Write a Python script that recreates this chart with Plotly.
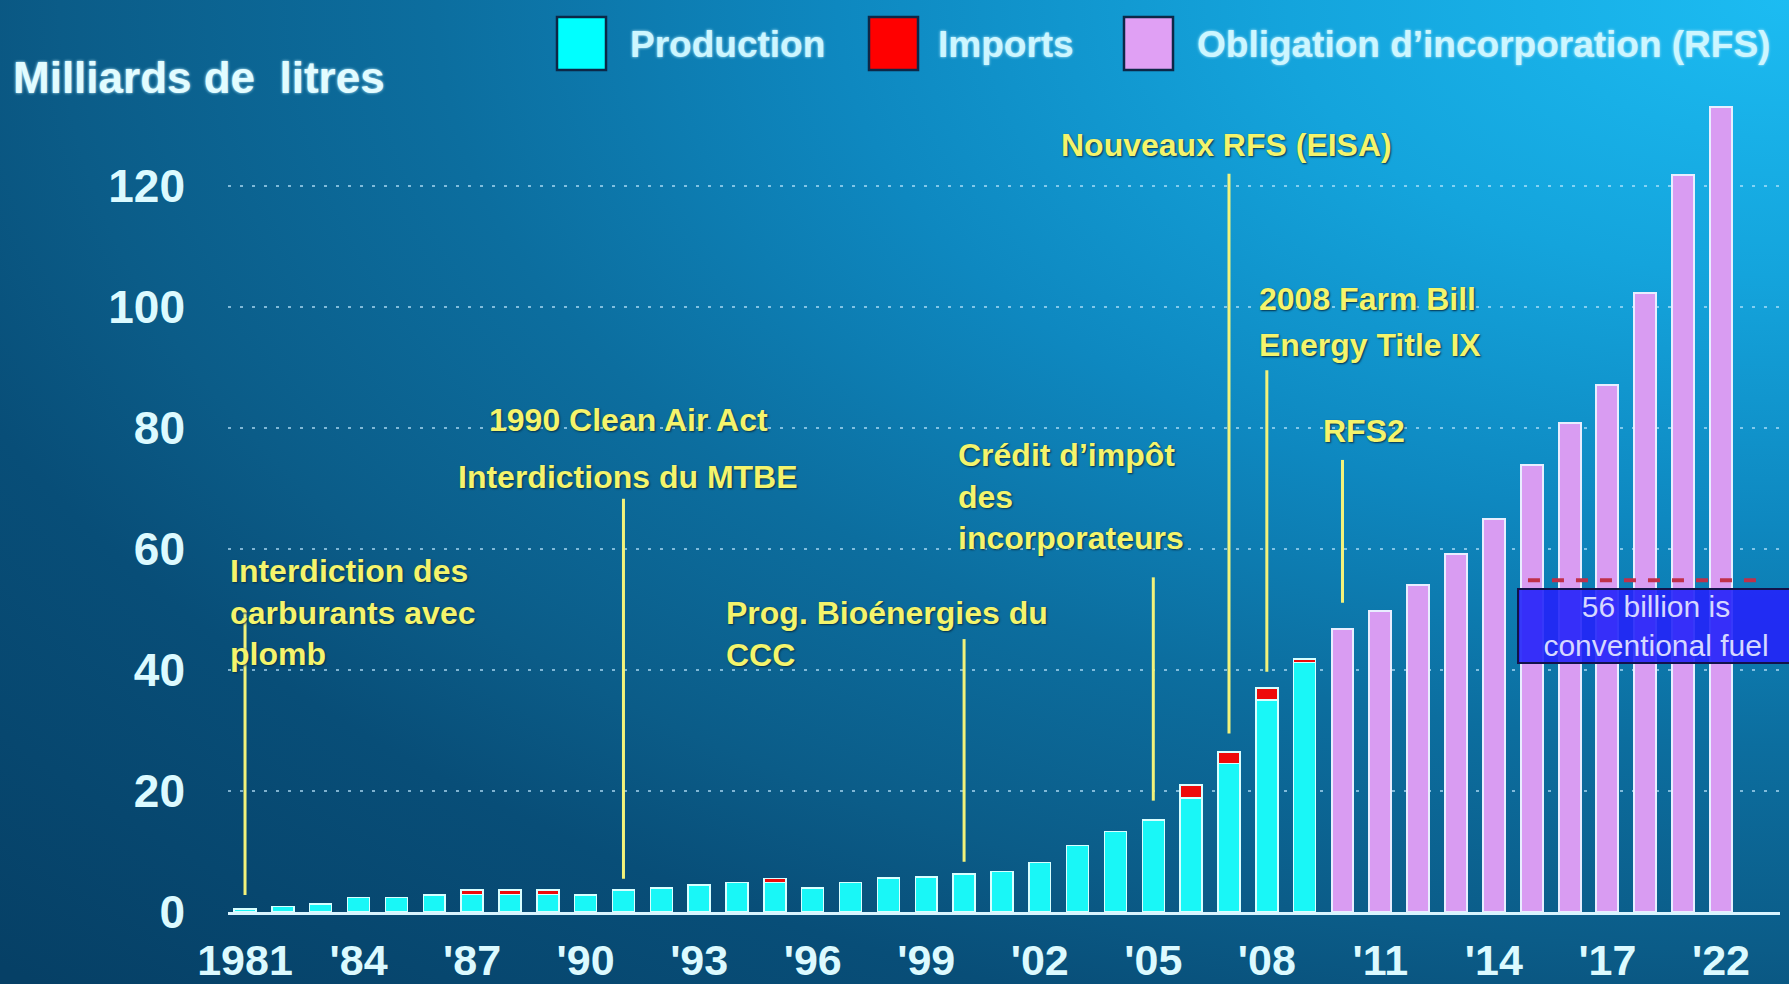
#--------------------- Packages
import base64
import plotly.graph_objects as go

#--------------------- Data (milliards de litres)
years = ['1981', '1982', '1983', '1984', '1985', '1986', '1987', '1988', '1989', '1990',
         '1991', '1992', '1993', '1994', '1995', '1996', '1997', '1998', '1999', '2000',
         '2001', '2002', '2003', '2004', '2005', '2006', '2007', '2008', '2009', '2010',
         '2011', '2012', '2013', '2014', '2015', '2016', '2017', '2019', '2021', '2022']

production = [0.5, 0.9, 1.3, 2.4, 2.4, 2.8, 2.9, 2.9, 2.9, 2.8,
              3.6, 4.0, 4.5, 4.9, 4.9, 4.0, 4.9, 5.6, 5.8, 6.3,
              6.7, 8.2, 11.0, 13.3, 15.2, 18.8, 24.5, 35.0, 41.2, None,
              None, None, None, None, None, None, None, None, None, None]

imports = [None, None, None, None, None, None, 0.7, 0.7, 0.7, None,
           None, None, None, None, 0.6, None, None, None, None, None,
           None, None, None, None, None, 2.2, 1.9, 2.0, 0.6, None,
           None, None, None, None, None, None, None, None, None, None]

rfs = [None, None, None, None, None, None, None, None, None, None,
       None, None, None, None, None, None, None, None, None, None,
       None, None, None, None, None, None, None, None, None, 46.7,
       49.7, 54.0, 59.1, 64.9, 73.8, 80.8, 87.1, 102.3, 121.7, 133.1]

tick_years = ['1981', '1984', '1987', '1990', '1993', '1996', '1999', '2002',
              '2005', '2008', '2011', '2014', '2017', '2022']
tick_labels = ['1981', "'84", "'87", "'90", "'93", "'96", "'99", "'02",
               "'05", "'08", "'11", "'14", "'17", "'22"]

# events: year of the marker line, bottom and top of the line
event_years = ['1981', '1991', '2000', '2005', '2007', '2008', '2010']
event_low = [2.8, 5.5, 8.3, 18.4, 29.5, 39.7, 51.1]
event_high = [49.5, 68.3, 45.1, 55.3, 122.0, 89.5, 74.7]

conventional_level = 54.8

#--------------------- Page geometry helpers
W, H = 1789, 984
L, R, T, B = 228, 9, 95, 72


def px(x):
    return (x - L) / (W - L - R)


def py(y):
    return (H - B - y) / (H - T - B)


#--------------------- Background gradient
svg = ('<svg xmlns="http://www.w3.org/2000/svg" width="1789" height="984" '
       'viewBox="0 0 1789 984" preserveAspectRatio="none">'
       '<defs><radialGradient id="g" cx="1" cy="0" r="1.4">'
       '<stop offset="0" stop-color="#1cbcf2"/>'
       '<stop offset="0.2" stop-color="#14a4dc"/>'
       '<stop offset="0.38" stop-color="#0e88c0"/>'
       '<stop offset="0.54" stop-color="#0c6e9f"/>'
       '<stop offset="0.69" stop-color="#0b5c88"/>'
       '<stop offset="0.78" stop-color="#084e78"/>'
       '<stop offset="1" stop-color="#064066"/>'
       '</radialGradient></defs>'
       '<rect width="1789" height="984" fill="url(#g)"/></svg>')
bg_src = 'data:image/svg+xml;base64,' + base64.b64encode(svg.encode()).decode()

#--------------------- Bars
fig = go.Figure()

fig.add_trace(go.Bar(
    x=years, y=production, name='Production', showlegend=False,
    marker=dict(color='#19f7f7', line=dict(color='#d8ffff', width=1.5))))

fig.add_trace(go.Bar(
    x=years, y=imports, name='Imports', showlegend=False,
    marker=dict(color='#ee0a0a', line=dict(color='#d8ffff', width=1.5))))

fig.add_trace(go.Bar(
    x=years, y=rfs, name='Obligation d’incorporation (RFS)', showlegend=False,
    marker=dict(color='#d99cf2', line=dict(color='#e8eeff', width=2))))

#--------------------- Event lines
shapes = []
for yr, lo, hi in zip(event_years, event_low, event_high):
    i = years.index(yr)
    shapes.append(dict(type='line', xref='x', yref='y', x0=i, x1=i, y0=lo, y1=hi,
                       line=dict(color='#f2f27a', width=3), layer='above'))

# red line over the last bars
shapes.append(dict(type='line', xref='x', yref='y', x0=33.9, x1=40.0,
                   y0=conventional_level, y1=conventional_level,
                   line=dict(color='#c0304a', width=4, dash='dash'), layer='above'))

# legend boxes
for x0, col in [(557, '#00ffff'), (869, '#ff0000'), (1124, '#e0a0f4')]:
    shapes.append(dict(type='rect', xref='paper', yref='paper',
                       x0=px(x0), x1=px(x0 + 49), y0=py(70), y1=py(17),
                       fillcolor=col, line=dict(color='#0c2848', width=2.5)))

#--------------------- Texts
yellow = dict(family='Liberation Sans', size=32, color='#f4f46c', weight=700,
              shadow='1px 1px 2px #05304a')
legend_font = dict(family='Liberation Sans', size=37,
                   color='#cdf6ff', weight=700, shadow='0px 0px 3px #bfefff')

annotations = [
    dict(text='Milliards de  litres', x=px(11), y=py(77), xanchor='left',
         font=dict(family='Liberation Sans', size=44,
                   color='#e2fcff', weight=700, shadow='0px 0px 3px #bfefff')),
    dict(text='Production', x=px(628), y=py(44), xanchor='left', font=legend_font),
    dict(text='Imports', x=px(936), y=py(44), xanchor='left', font=legend_font),
    dict(text='Obligation d’incorporation (RFS)', x=px(1195), y=py(44),
         xanchor='left', font=legend_font),
    dict(text='Interdiction des<br>carburants avec<br>plomb', x=px(228), y=py(612),
         xanchor='left', align='left', font=yellow),
    dict(text='1990 Clean Air Act', x=px(628), y=py(420), xanchor='center', font=yellow),
    dict(text='Interdictions du MTBE', x=px(456), y=py(477), xanchor='left', font=yellow),
    dict(text='Prog. Bioénergies du<br>CCC', x=px(724), y=py(634), xanchor='left',
         align='left', font=yellow),
    dict(text='Crédit d’impôt<br>des<br>incorporateurs', x=px(956), y=py(496),
         xanchor='left', align='left', font=yellow),
    dict(text='Nouveaux RFS (EISA)', x=px(1226), y=py(145), xanchor='center', font=yellow),
    dict(text='2008 Farm Bill', x=px(1257), y=py(299), xanchor='left', font=yellow),
    dict(text='Energy Title IX', x=px(1257), y=py(345), xanchor='left', font=yellow),
    dict(text='RFS2', x=px(1321), y=py(431), xanchor='left', font=yellow),
    dict(text='56 billion is<br>conventional fuel', x=px(1656), y=py(626),
         xanchor='center', width=272, height=70, bgcolor='rgba(35,35,250,0.9)',
         bordercolor='#12124a', borderwidth=2,
         font=dict(family='Liberation Sans', size=30, color='#d6d8ff')),
]
for a in annotations:
    a.update(xref='paper', yref='paper', yanchor='middle', showarrow=False)

#--------------------- Axes
fig.update_xaxes(
    type='category', categoryorder='array', categoryarray=years,
    range=[-0.45, 40.56], showgrid=False, zeroline=False,
    showline=True, linecolor='#d8f4ff', linewidth=3,
    tickmode='array', tickvals=tick_years, ticktext=tick_labels,
    ticks='', ticklabelstandoff=8,
    tickfont=dict(family='Liberation Sans', size=43,
                  color='#dcfaff', weight=700))

fig.update_yaxes(
    range=[0, 135], tickvals=[0, 20, 40, 60, 80, 100, 120],
    showgrid=True, gridcolor='rgba(190,232,255,0.65)', griddash='3px,9px', gridwidth=2,
    zeroline=False, showline=False, ticks='', ticklabelstandoff=42,
    tickfont=dict(family='Liberation Sans', size=46, color='#dcfaff', weight=700))

#--------------------- Layout
fig.update_layout(
    width=W, height=H,
    margin=dict(l=L, r=R, t=T, b=B, pad=0, autoexpand=False),
    barmode='stack', bargap=0.42,
    plot_bgcolor='rgba(0,0,0,0)', paper_bgcolor='#0a5a85',
    shapes=shapes, annotations=annotations,
    images=[dict(source=bg_src, xref='paper', yref='paper',
                 x=px(0), y=py(0), sizex=W / (W - L - R), sizey=H / (H - T - B),
                 xanchor='left', yanchor='top', sizing='stretch', layer='below')])

fig.write_html("out.html", config={'displayModeBar': False},
               post_script="document.body.style.margin='0px';"
                           "document.body.style.overflow='hidden';")
